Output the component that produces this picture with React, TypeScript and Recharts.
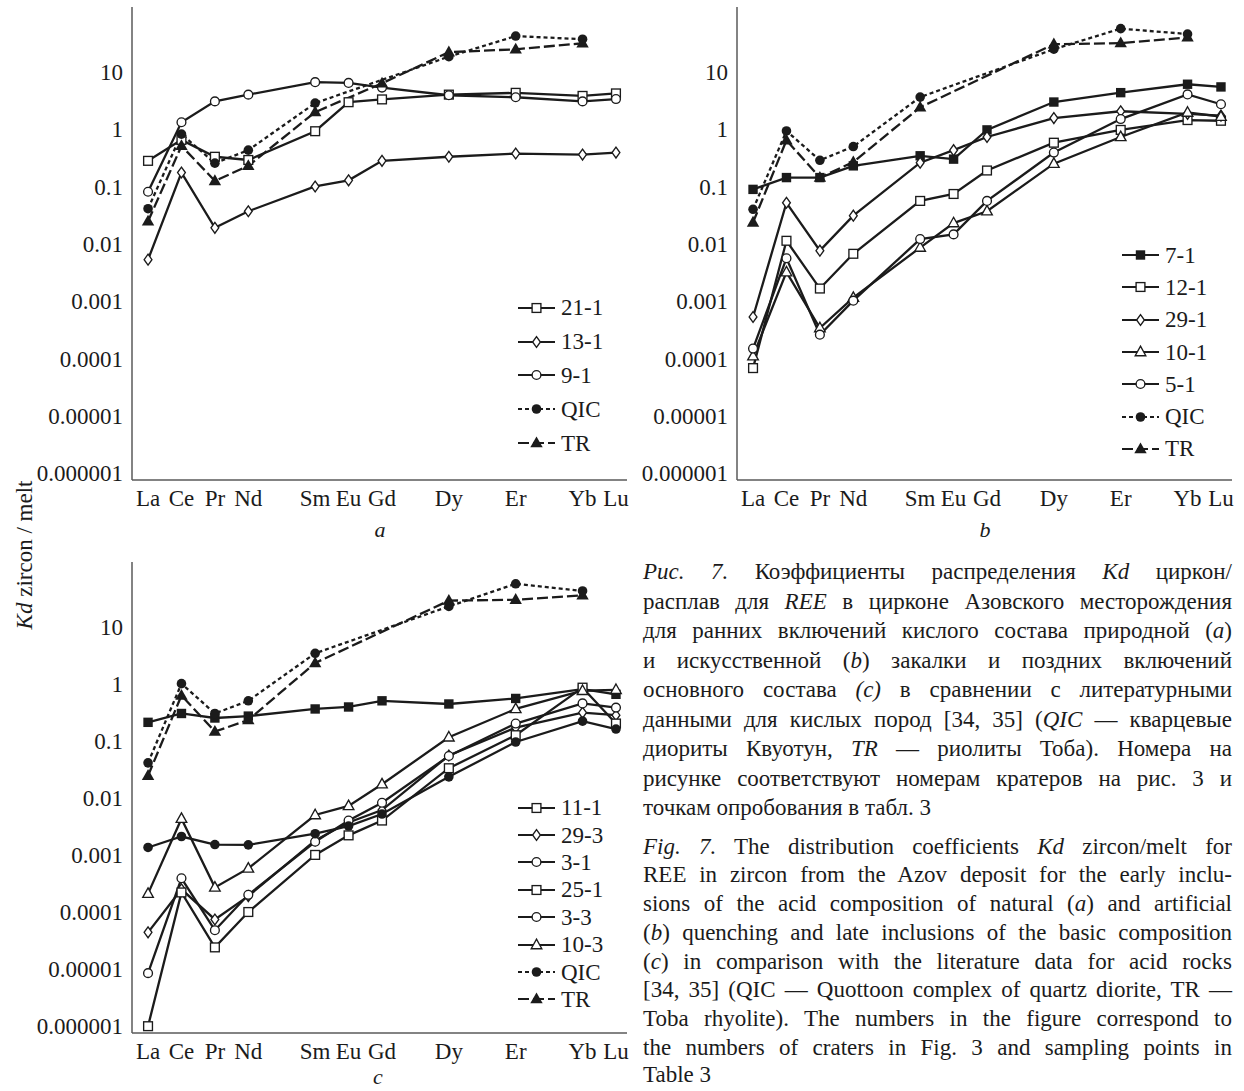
import React from 'react';
import { LineChart, Line, XAxis, YAxis, Legend } from 'recharts';

const FONT = "'Liberation Serif', 'Times New Roman', Times, serif";
const INK = '#1b1b1b';
const FRAME = '#5a5a5a';

// ---------- categories & ticks ----------
const ELEMENTS = ['La', 'Ce', 'Pr', 'Nd', 'Pm', 'Sm', 'Eu', 'Gd', 'Tb', 'Dy', 'Ho', 'Er', 'Tm', 'Yb', 'Lu'];
const X_TICK_LABELS = ['La', 'Ce', 'Pr', 'Nd', 'Sm', 'Eu', 'Gd', 'Dy', 'Er', 'Yb', 'Lu'];
const Y_TICKS = [0.000001, 0.00001, 0.0001, 0.001, 0.01, 0.1, 1, 10];
const Y_TICK_LABELS = ['0.000001', '0.00001', '0.0001', '0.001', '0.01', '0.1', '1', '10'];
const Y_MAJOR_MARKS = [0.000001, 0.00001, 0.0001, 0.001, 0.01, 0.1, 1, 10, 100];
const Y_DOMAIN: [number, number] = [7.6e-7, 135];
const X_DOMAIN: [number, number] = [-0.48, 14.33];

// ---------- panel a ----------
const A_21_1 = [0.28, 0.65, 0.33, 0.29, null, 0.92, 2.95, 3.3, null, 4.0, null, 4.3, null, 3.8, 4.2];
const A_13_1 = [0.0053, 0.175, 0.019, 0.037, null, 0.1, 0.128, 0.28, null, 0.33, null, 0.375, null, 0.36, 0.39];
const A_9_1 = [0.081, 1.32, 3.05, 4.0, null, 6.6, 6.4, 5.3, null, 3.9, null, 3.6, null, 3.05, 3.35];
const A_QIC = [0.041, 0.82, 0.255, 0.43, null, 2.85, null, null, null, 18.4, null, 42, null, 37, null];
const A_TR = [0.0247, 0.51, 0.125, 0.229, null, 1.98, null, 6.3, null, 22, null, 24.7, null, 31.5, null];

// ---------- panel b ----------
const B_7_1 = [0.089, 0.143, 0.143, 0.229, null, 0.343, 0.3, 0.97, null, 2.97, null, 4.33, null, 6.07, 5.45];
const B_12_1 = [0.000068, 0.0113, 0.00166, 0.0067, null, 0.056, 0.074, 0.19, null, 0.58, null, 0.97, null, 1.44, 1.4];
const B_29_1 = [0.00053, 0.052, 0.0076, 0.031, null, 0.26, 0.43, 0.73, null, 1.56, null, 2.05, null, 1.85, 1.72];
const B_10_1 = [0.00011, 0.0032, 0.00034, 0.00115, null, 0.0086, 0.023, 0.037, null, 0.25, null, 0.73, null, 1.95, 1.65];
const B_5_1 = [0.000149, 0.0056, 0.00026, 0.00102, null, 0.0121, 0.0146, 0.056, null, 0.39, null, 1.5, null, 4.03, 2.72];
const B_QIC = [0.04, 0.93, 0.286, 0.497, null, 3.62, null, null, null, 24.8, null, 56.6, null, 45.6, null];
const B_TR = [0.0236, 0.64, 0.143, 0.267, null, 2.41, null, null, null, 30.3, null, 31.6, null, 39.8, null];

// ---------- panel c ----------
const C_11_1 = [0.21, 0.3, 0.25, 0.27, null, 0.36, 0.39, 0.5, null, 0.44, null, 0.55, null, 0.8, 0.65];
const C_29_3 = [0.000044, 0.00025, 0.000074, 0.00019, null, 0.0018, 0.0037, 0.0061, null, 0.055, null, 0.17, null, 0.31, 0.28];
const C_3_1 = [0.0000085, 0.00039, 0.000048, 0.0002, null, 0.0017, 0.004, 0.0082, null, 0.054, null, 0.2, null, 0.45, 0.38];
const C_25_1 = [0.000001, 0.00022, 0.000024, 0.0001, null, 0.001, 0.0022, 0.004, null, 0.033, null, 0.125, null, 0.85, 0.2];
const C_3_3 = [0.00135, 0.0021, 0.00152, 0.0015, null, 0.00235, 0.0032, 0.0052, null, 0.0233, null, 0.095, null, 0.22, 0.16];
const C_10_3 = [0.00021, 0.0043, 0.00027, 0.00058, null, 0.005, 0.0072, 0.0173, null, 0.115, null, 0.36, null, 0.75, 0.78];
const C_QIC = [0.041, 1.0, 0.3, 0.5, null, 3.4, null, null, null, 22.5, null, 56, null, 42, null];
const C_TR = [0.0244, 0.62, 0.145, 0.23, null, 2.3, null, null, null, 28.4, null, 29.5, null, 35.2, null];

type Series = { key: string; name: string; values: (number | null)[]; marker: string; legendMarker?: string; dash?: string };

const DOTTED = '4 3';
const DASHED = '11 4';

const SERIES_A: Series[] = [
  { key: 'a21', name: '21-1', values: A_21_1, marker: 'square' },
  { key: 'a13', name: '13-1', values: A_13_1, marker: 'diamond' },
  { key: 'a9', name: '9-1', values: A_9_1, marker: 'circle' },
  { key: 'aq', name: 'QIC', values: A_QIC, marker: 'fcircle', dash: DOTTED },
  { key: 'at', name: 'TR', values: A_TR, marker: 'ftriangle', dash: DASHED },
];
const SERIES_B: Series[] = [
  { key: 'b7', name: '7-1', values: B_7_1, marker: 'fsquare' },
  { key: 'b12', name: '12-1', values: B_12_1, marker: 'square' },
  { key: 'b29', name: '29-1', values: B_29_1, marker: 'diamond' },
  { key: 'b10', name: '10-1', values: B_10_1, marker: 'triangle' },
  { key: 'b5', name: '5-1', values: B_5_1, marker: 'circle' },
  { key: 'bq', name: 'QIC', values: B_QIC, marker: 'fcircle', dash: DOTTED },
  { key: 'bt', name: 'TR', values: B_TR, marker: 'ftriangle', dash: DASHED },
];
const SERIES_C: Series[] = [
  { key: 'c11', name: '11-1', values: C_11_1, marker: 'fsquare', legendMarker: 'square' },
  { key: 'c293', name: '29-3', values: C_29_3, marker: 'diamond' },
  { key: 'c31', name: '3-1', values: C_3_1, marker: 'circle' },
  { key: 'c25', name: '25-1', values: C_25_1, marker: 'square' },
  { key: 'c33', name: '3-3', values: C_3_3, marker: 'fcircle', legendMarker: 'circle' },
  { key: 'c103', name: '10-3', values: C_10_3, marker: 'triangle' },
  { key: 'cq', name: 'QIC', values: C_QIC, marker: 'fcircle', dash: DOTTED },
  { key: 'ct', name: 'TR', values: C_TR, marker: 'ftriangle', dash: DASHED },
];

const X_LABEL_TICKS = X_TICK_LABELS.map((l) => ELEMENTS.indexOf(l));
const X_BOUNDARY_TICKS = ELEMENTS.slice(1).map((_, i) => i + 0.5);
const Y_MINOR_MARKS: number[] = [];
for (let d = -7; d <= 2; d++) {
  for (let m = 2; m <= 9; m++) {
    const v = m * Math.pow(10, d);
    if (v > Y_DOMAIN[0] && v < Y_DOMAIN[1]) Y_MINOR_MARKS.push(v);
  }
}

function buildRows(series: Series[]) {
  return ELEMENTS.map((el, i) => {
    const row: Record<string, any> = { x: i, el };
    series.forEach((s) => {
      row[s.key] = s.values[i];
    });
    return row;
  });
}

function Marker({ cx, cy, shape }: { cx: number; cy: number; shape: string }) {
  const sw = 1.35;
  switch (shape) {
    case 'square':
      return <rect x={cx - 4.4} y={cy - 4.4} width={8.8} height={8.8} fill="#fff" stroke={INK} strokeWidth={sw} />;
    case 'fsquare':
      return <rect x={cx - 4.7} y={cy - 4.7} width={9.4} height={9.4} fill={INK} />;
    case 'diamond':
      return (
        <polygon
          points={`${cx},${cy - 5.4} ${cx + 3.9},${cy} ${cx},${cy + 5.4} ${cx - 3.9},${cy}`}
          fill="#fff"
          stroke={INK}
          strokeWidth={sw}
        />
      );
    case 'circle':
      return <circle cx={cx} cy={cy} r={4.4} fill="#fff" stroke={INK} strokeWidth={sw} />;
    case 'fcircle':
      return <circle cx={cx} cy={cy} r={4.8} fill={INK} />;
    case 'triangle':
      return (
        <polygon
          points={`${cx},${cy - 5.8} ${cx + 5.3},${cy + 3.7} ${cx - 5.3},${cy + 3.7}`}
          fill="#fff"
          stroke={INK}
          strokeWidth={sw}
        />
      );
    case 'ftriangle':
      return <polygon points={`${cx},${cy - 6.6} ${cx + 6.2},${cy + 4.2} ${cx - 6.2},${cy + 4.2}`} fill={INK} />;
    default:
      return null;
  }
}

function makeDot(shape: string, skey: string) {
  return (props: any) => {
    const { cx, cy, index, value } = props;
    if (value == null || typeof cx !== 'number' || typeof cy !== 'number' || isNaN(cy)) {
      return <g key={`${skey}-e-${index}`} />;
    }
    return (
      <g key={`${skey}-d-${index}`}>
        <Marker cx={cx} cy={cy} shape={shape} />
      </g>
    );
  };
}

function LegendBox({ series, rowH }: { series: Series[]; rowH: number }) {
  return (
    <div style={{ fontFamily: FONT, fontSize: 23, color: INK }}>
      {series.map((s) => (
        <div key={s.key} style={{ height: rowH, display: 'flex', alignItems: 'center', whiteSpace: 'nowrap' }}>
          <svg width={40} height={16} style={{ flex: 'none', overflow: 'visible' }}>
            <line x1={0} y1={8} x2={37} y2={8} stroke={INK} strokeWidth={2.2} strokeDasharray={s.dash} />
            <Marker cx={18.5} cy={8} shape={s.legendMarker || s.marker} />
          </svg>
          <span style={{ marginLeft: 3, lineHeight: 1 }}>{s.name}</span>
        </div>
      ))}
    </div>
  );
}

const CHART_W = 639;
const CHART_H = 540;
const tickStyle = { fill: INK, fontSize: 23, fontFamily: FONT };

function Panel({
  left,
  top,
  series,
  plotH,
  legendLeft,
  legendTop,
  legendRowH,
}: {
  left: number;
  top: number;
  series: Series[];
  plotH: number;
  legendLeft: number;
  legendTop: number;
  legendRowH: number;
}) {
  const rows = buildRows(series);
  return (
    <div style={{ position: 'absolute', left, top, width: CHART_W, height: CHART_H }}>
      <LineChart
        width={CHART_W}
        height={CHART_H}
        data={rows}
        margin={{ top: 7, right: 12, left: 32, bottom: CHART_H - 7 - plotH - 40 }}
      >
        <XAxis
          xAxisId="bnd"
          type="number"
          domain={X_DOMAIN}
          allowDataOverflow
          orientation="bottom"
          mirror
          height={0}
          ticks={X_BOUNDARY_TICKS}
          interval={0}
          tickSize={7}
          tickLine={{ stroke: FRAME, strokeWidth: 1.3 }}
          axisLine={false}
          tickFormatter={() => ''}
        />
        <XAxis
          xAxisId="v"
          dataKey="x"
          type="number"
          domain={X_DOMAIN}
          allowDataOverflow
          orientation="bottom"
          height={40}
          ticks={X_LABEL_TICKS}
          interval={0}
          tickLine={false}
          tickSize={0}
          tickMargin={10}
          axisLine={{ stroke: FRAME, strokeWidth: 1.5 }}
          tick={tickStyle}
          tickFormatter={(v: number) => ELEMENTS[Math.round(v)]}
        />
        <XAxis
          xAxisId="top"
          type="number"
          domain={X_DOMAIN}
          allowDataOverflow
          orientation="top"
          height={0}
          tick={false}
          tickLine={false}
          axisLine={{ stroke: FRAME, strokeWidth: 1.5 }}
        />
        <YAxis
          yAxisId="v"
          type="number"
          scale="log"
          domain={Y_DOMAIN}
          allowDataOverflow
          width={100}
          ticks={Y_TICKS}
          interval={0}
          tickLine={false}
          tickSize={0}
          tickMargin={9}
          axisLine={{ stroke: FRAME, strokeWidth: 1.5 }}
          tick={tickStyle}
          tickFormatter={(v: number) => {
            const i = Y_TICKS.findIndex((t) => Math.abs(Math.log10(t) - Math.log10(v)) < 1e-6);
            return i >= 0 ? Y_TICK_LABELS[i] : '';
          }}
        />
        <YAxis
          yAxisId="maj"
          type="number"
          scale="log"
          domain={Y_DOMAIN}
          allowDataOverflow
          mirror
          width={0}
          ticks={Y_MAJOR_MARKS.filter((v) => v > Y_DOMAIN[0] && v < Y_DOMAIN[1])}
          interval={0}
          tickSize={7}
          tickLine={{ stroke: FRAME, strokeWidth: 1.3 }}
          axisLine={false}
          tickFormatter={() => ''}
        />
        <YAxis
          yAxisId="min"
          type="number"
          scale="log"
          domain={Y_DOMAIN}
          allowDataOverflow
          mirror
          width={0}
          ticks={Y_MINOR_MARKS}
          interval={0}
          tickSize={4}
          tickLine={{ stroke: FRAME, strokeWidth: 1 }}
          axisLine={false}
          tickFormatter={() => ''}
        />
        <YAxis
          yAxisId="rt"
          type="number"
          scale="log"
          domain={Y_DOMAIN}
          allowDataOverflow
          orientation="right"
          width={0}
          tick={false}
          tickLine={false}
          axisLine={{ stroke: FRAME, strokeWidth: 1.5 }}
        />
        {series.map((s) => (
          <Line
            key={s.key}
            xAxisId="v"
            yAxisId="v"
            type="linear"
            dataKey={s.key}
            name={s.name}
            stroke={INK}
            strokeWidth={2.3}
            strokeDasharray={s.dash}
            connectNulls
            dot={makeDot(s.marker, s.key)}
            activeDot={false}
            isAnimationActive={false}
          />
        ))}
        <Legend
          layout="vertical"
          align="center"
          verticalAlign="middle"
          wrapperStyle={{ left: legendLeft, top: legendTop, width: 120, height: 'auto' }}
          content={() => <LegendBox series={series} rowH={legendRowH} />}
        />
      </LineChart>
    </div>
  );
}

type CapLine = { parts: [string, boolean][]; last?: boolean };

const CAPTION_RU: CapLine[] = [
  { parts: [['Рис. 7.', true], [' Коэффициенты распределения ', false], ['Kd', true], [' циркон/', false]] },
  { parts: [['расплав для ', false], ['REE', true], [' в цирконе Азовского месторождения', false]] },
  { parts: [['для ранних включений кислого состава природной (', false], ['a', true], [')', false]] },
  { parts: [['и искусственной (', false], ['b', true], [') закалки и поздних включений', false]] },
  { parts: [['основного состава ', false], ['(c)', true], [' в сравнении с литературными', false]] },
  { parts: [['данными для кислых пород [34, 35] (', false], ['QIC', true], [' — кварцевые', false]] },
  { parts: [['диориты Квуотун, ', false], ['TR', true], [' — риолиты Тоба). Номера на', false]] },
  { parts: [['рисунке соответствуют номерам кратеров на рис. 3 и', false]] },
  { parts: [['точкам опробования в табл. 3', false]], last: true },
];
const CAPTION_EN: CapLine[] = [
  { parts: [['Fig. 7.', true], [' The distribution coefficients ', false], ['Kd', true], [' zircon/melt for', false]] },
  { parts: [['REE in zircon from the Azov deposit for the early inclu-', false]] },
  { parts: [['sions of the acid composition of natural (', false], ['a', true], [') and artificial', false]] },
  { parts: [['(', false], ['b', true], [') quenching and late inclusions of the basic composition', false]] },
  { parts: [['(', false], ['c', true], [') in comparison with the literature data for acid rocks', false]] },
  { parts: [['[34, 35] (QIC — Quottoon complex of quartz diorite, TR —', false]] },
  { parts: [['Toba rhyolite). The numbers in the figure correspond to', false]] },
  { parts: [['the numbers of craters in Fig. 3 and sampling points in', false]] },
  { parts: [['Table 3', false]], last: true },
];

function CaptionBlock({ lines, lh, lastH }: { lines: CapLine[]; lh: number; lastH: number }) {
  return (
    <div>
      {lines.map((ln, i) => {
        const h = ln.last ? lastH : lh;
        return (
          <div
            key={i}
            style={{
              height: h,
              lineHeight: `${h}px`,
              whiteSpace: 'nowrap',
              textAlign: ln.last ? 'left' : 'justify',
              textAlignLast: ln.last ? 'left' : 'justify',
            }}
          >
            {ln.parts.map(([t, it], j) => (it ? <i key={j}>{t}</i> : <span key={j}>{t}</span>))}
          </div>
        );
      })}
    </div>
  );
}

const letterStyle: React.CSSProperties = {
  position: 'absolute',
  transform: 'translate(-50%,-50%)',
  fontSize: 22,
  lineHeight: '16px',
  height: 16,
  fontStyle: 'italic',
};

export default function App() {
  return (
    <div
      style={{
        position: 'absolute',
        left: 0,
        top: 0,
        width: 1244,
        height: 1091,
        background: '#fff',
        overflow: 'hidden',
        fontFamily: FONT,
        color: INK,
      }}
    >
      <Panel left={0} top={0} series={SERIES_A} plotH={473} legendLeft={518} legendTop={291} legendRowH={33.8} />
      <Panel left={605} top={0} series={SERIES_B} plotH={473} legendLeft={517} legendTop={239} legendRowH={32.3} />
      <Panel left={0} top={555} series={SERIES_C} plotH={471} legendLeft={518} legendTop={239} legendRowH={27.4} />

      <div style={{ ...letterStyle, left: 380, top: 530 }}>a</div>
      <div style={{ ...letterStyle, left: 985, top: 530 }}>b</div>
      <div style={{ ...letterStyle, left: 378, top: 1077 }}>c</div>

      <div
        style={{
          position: 'absolute',
          left: 24,
          top: 555,
          transform: 'translate(-50%,-50%) rotate(-90deg)',
          whiteSpace: 'nowrap',
          fontSize: 23,
          lineHeight: 1,
        }}
      >
        <i>Kd</i> zircon / melt
      </div>

      <div style={{ position: 'absolute', left: 643, top: 557, width: 589, fontSize: 23 }}>
        <CaptionBlock lines={CAPTION_RU} lh={29.5} lastH={29.5} />
        <div style={{ height: 10 }} />
        <CaptionBlock lines={CAPTION_EN} lh={28.8} lastH={24} />
      </div>
    </div>
  );
}
